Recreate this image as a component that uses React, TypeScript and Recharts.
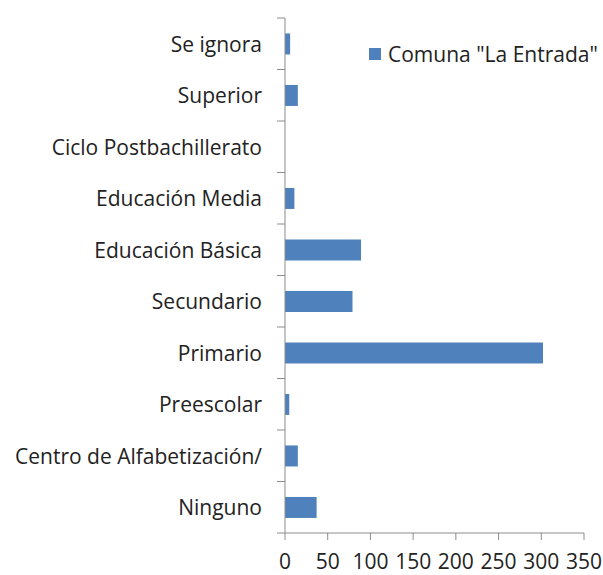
import { BarChart, Bar, XAxis, YAxis, Legend } from "recharts";

const categories = [
  "Se ignora",
  "Superior",
  "Ciclo Postbachillerato",
  "Educación Media",
  "Educación Básica",
  "Secundario",
  "Primario",
  "Preescolar",
  "Centro de Alfabetización/",
  "Ninguno",
];
const values = [6, 15, 0, 11, 89, 79, 302, 5, 15, 37];
const xTicks = [0, 50, 100, 150, 200, 250, 300, 350];
const seriesName = 'Comuna "La Entrada"';

const data = categories.map((name, i) => ({ name, value: values[i] }));

const AXIS = "#8c8c8c";
const BAR = "#4f81bd";
const FONT = "Open Sans";

// Excel-style category axis: ticks sit on the band edges, labels in the middle
const CategoryTick = (props: {
  x?: number;
  y?: number;
  index?: number;
  payload?: { value: string };
}) => {
  const { x = 0, y = 0, index = 0, payload } = props;
  const band = 515 / categories.length;
  const axisX = x + 8;
  const last = index === categories.length - 1;
  return (
    <g>
      <line x1={axisX - 8} x2={axisX} y1={y - band / 2} y2={y - band / 2} stroke={AXIS} />
      {last && (
        <line x1={axisX - 8} x2={axisX} y1={y + band / 2} y2={y + band / 2} stroke={AXIS} />
      )}
      <text
        x={axisX - 23}
        y={y}
        dy={8}
        textAnchor="end"
        fill="#222"
        fontSize={21}
        fontFamily={FONT}
      >
        {payload?.value}
      </text>
    </g>
  );
};

const renderLegend = () => (
  <div style={{ display: "flex", alignItems: "center", fontFamily: FONT, fontSize: 21, color: "#222" }}>
    <span style={{ width: 12, height: 12, background: BAR, display: "inline-block", marginRight: 7 }} />
    <span style={{ whiteSpace: "nowrap" }}>{seriesName}</span>
  </div>
);

export default function App() {
  return (
    <div style={{ position: "absolute", left: 0, top: 0, background: "#fff" }}>
      <BarChart
        width={603}
        height={575}
        data={data}
        layout="vertical"
        barCategoryGap="30%"
        margin={{ top: 18, right: 19, bottom: 0, left: 0 }}
      >
        <XAxis
          type="number"
          domain={[0, 350]}
          ticks={xTicks}
          interval={0}
          height={42}
          stroke={AXIS}
          tickSize={7}
          tick={{ fill: "#222", fontSize: 21, fontFamily: FONT }}
          tickMargin={14}
        />
        <YAxis
          type="category"
          dataKey="name"
          width={285}
          stroke={AXIS}
          tickLine={false}
          interval={0}
          tick={<CategoryTick />}
        />
        <Legend
          layout="vertical"
          align="center"
          verticalAlign="middle"
          wrapperStyle={{ top: 40, left: 369, width: 240 }}
          content={renderLegend}
        />
        <Bar dataKey="value" name={seriesName} fill={BAR} isAnimationActive={false} />
      </BarChart>
    </div>
  );
}
